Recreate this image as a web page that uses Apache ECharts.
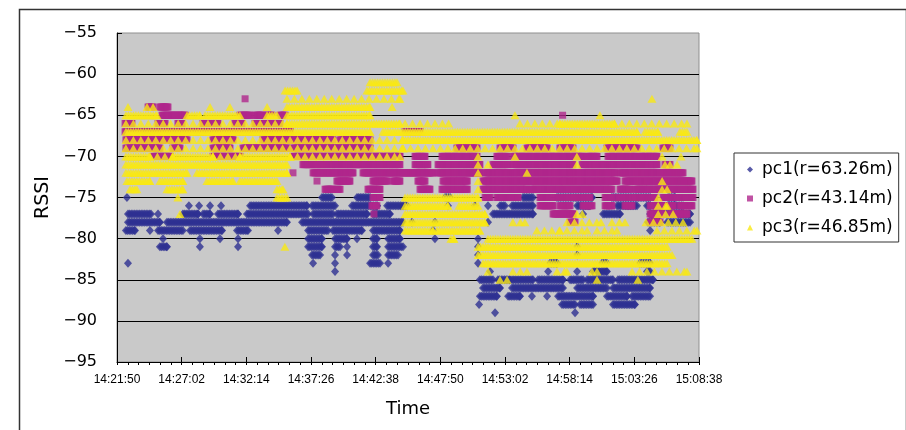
<!DOCTYPE html>
<html>
<head>
<meta charset="utf-8">
<script src="https://cdn.jsdelivr.net/npm/echarts@6/dist/echarts.min.js"></script>
<style>
  html, body { margin: 0; padding: 0; background: #fff; }
  #main { width: 906px; height: 430px; }
</style>
</head>
<body>
<div id="main"></div>
<script>
// x = seconds after 14:21:50, one major tick every 312 s (5:12)
const xTickLabels = ['14:21:50', '14:27:02', '14:32:14', '14:37:26', '14:42:38',
  '14:47:50', '14:53:02', '14:58:14', '15:03:26', '15:08:38'];
const xStep = 312;
const yMin = -95, yMax = -55, yStep = 5;

const seriesNames = ['pc1(r=63.26m)', 'pc2(r=43.14m)', 'pc3(r=46.85m)'];

// runs: [rssi, firstSecond, lastSecond] (one value = single sample)
const pc1Runs = [
  [-75, 48], [-75, 989, 1037], [-75, 1158, 1221], [-75, 1583, 1607], [-75, 1959, 2007], [-75, 2123, 2292], [-75, 2388, 2572], [-75, 2659, 2692],
  [-76, 347], [-76, 396], [-76, 449], [-76, 502], [-76, 642, 917], [-76, 941, 1052], [-76, 1134, 1255], [-76, 1303, 1399], [-76, 1597], [-76, 1727], [-76, 1790],
  [-76, 1848, 1872], [-76, 1906, 2007], [-76, 2220, 2282], [-76, 2413, 2509], [-76, 2557, 2572], [-76, 2659, 2731],
  [-77, 53, 164], [-77, 198], [-77, 318, 391], [-77, 415, 449], [-77, 487, 584], [-77, 627, 922], [-77, 946, 1042], [-77, 1061, 1206], [-77, 1235, 1317],
  [-77, 1814, 2007], [-77, 2249], [-77, 2345, 2427], [-77, 2572, 2765],
  [-78, 53, 207], [-78, 241, 820], [-78, 893, 1380], [-78, 1423], [-78, 1534], [-78, 1790], [-78, 2562, 2620], [-78, 2654, 2765],
  [-79, 43, 87], [-79, 159], [-79, 198, 318], [-79, 352, 507], [-79, 579, 632], [-79, 777], [-79, 922, 1018], [-79, 1042, 1182], [-79, 1235, 1365], [-79, 1525], [-79, 2572],
  [-80, 222], [-80, 400], [-80, 497], [-80, 584], [-80, 922, 989], [-80, 1052, 1110], [-80, 1158], [-80, 1235, 1255], [-80, 1308, 1365], [-80, 1534], [-80, 1742],
  [-81, 207, 241], [-81, 400], [-81, 584], [-81, 922, 989], [-81, 1052, 1076], [-81, 1110], [-81, 1235, 1255], [-81, 1308, 1380], [-81, 1742], [-81, 2220],
  [-82, 941, 980], [-82, 1052], [-82, 1110], [-82, 1235, 1259], [-82, 1308, 1356], [-82, 1742], [-82, 2220],
  [-83, 53], [-83, 946], [-83, 1052], [-83, 1221, 1269], [-83, 1308], [-83, 1742], [-83, 2089, 2123], [-83, 2340, 2364], [-83, 2523, 2572],
  [-84, 1052], [-84, 1800], [-84, 2080], [-84, 2220], [-84, 2297, 2364], [-84, 2557, 2572],
  [-85, 1751, 1814], [-85, 1838, 1896], [-85, 1906, 2007], [-85, 2031, 2152], [-85, 2186, 2249], [-85, 2268, 2393], [-85, 2417, 2586],
  [-86, 1766, 1848], [-86, 1906, 2152], [-86, 2220, 2364], [-86, 2393, 2572],
  [-87, 1751, 1833], [-87, 1887, 1944], [-87, 2002], [-87, 2075], [-87, 2128, 2297], [-87, 2364, 2461], [-87, 2485, 2572],
  [-88, 1747], [-88, 2147, 2210], [-88, 2234, 2297], [-88, 2393, 2499],
  [-89, 1824], [-89, 2210]
];

const pc2Runs = [
  [-63, 618],
  [-64, 150, 174], [-64, 207, 246],
  [-65, 217, 328], [-65, 593, 642], [-65, 666, 704], [-65, 724, 748], [-65, 786, 811], [-65, 2150],
  [-66, 39, 72], [-66, 198, 232], [-66, 294, 314], [-66, 415, 487], [-66, 569, 603], [-66, 666, 786],
  [-67, 39, 835], [-67, 1390, 1462],
  [-68, 43, 338], [-68, 463, 560], [-68, 704, 835], [-68, 849, 1042], [-68, 1076, 1221],
  [-69, 43, 207], [-69, 270, 304], [-69, 463, 545], [-69, 608, 690], [-69, 704, 820], [-69, 849, 1221], [-69, 1640, 1737], [-69, 1848, 1911],
  [-69, 1978, 2075], [-69, 2137, 2200], [-69, 2364, 2509], [-69, 2634, 2668],
  [-70, 174, 256], [-70, 463, 593], [-70, 849, 1365], [-70, 1438, 1486], [-70, 1568, 1737], [-70, 1833, 1882], [-70, 1911, 2248], [-70, 2268, 2316],
  [-70, 2369, 2509], [-70, 2523, 2605],
  [-71, 897, 1365], [-71, 1438, 1500], [-71, 1549, 1751], [-71, 1814, 1887], [-71, 1911, 2200], [-71, 2244, 2605], [-71, 2644, 2668],
  [-72, 849], [-72, 946, 1139], [-72, 1187, 1525], [-72, 1549, 1751], [-72, 1776, 2403], [-72, 2427, 2731],
  [-73, 965], [-73, 1061, 1124], [-73, 1235, 1303], [-73, 1332, 1365], [-73, 1452, 1486], [-73, 1573, 1689], [-73, 1766, 2162], [-73, 2171, 2413], [-73, 2451, 2774],
  [-74, 1004, 1042], [-74, 1061, 1076], [-74, 1211, 1269], [-74, 1462, 1510], [-74, 1568, 1689], [-74, 1766, 1978], [-74, 1993, 2388], [-74, 2427, 2475],
  [-74, 2499, 2572], [-74, 2581, 2779],
  [-75, 1235, 1269], [-75, 1776, 1800], [-75, 1833, 1935], [-75, 2041, 2089], [-75, 2113, 2282], [-75, 2355, 2388], [-75, 2417, 2499], [-75, 2523, 2596], [-75, 2634, 2779],
  [-76, 1230, 1254], [-76, 2041, 2104], [-76, 2137, 2186], [-76, 2248, 2292], [-76, 2355, 2388], [-76, 2451, 2485], [-76, 2572, 2683], [-76, 2716, 2774],
  [-77, 1240], [-77, 2104, 2200], [-77, 2572, 2634], [-77, 2668, 2750],
  [-78, 2186, 2210], [-78, 2572, 2620]
];

// pc3 has close-packed stretches and thinly sampled stretches
const pc3Runs = [
  [-61, 1221, 1351],
  [-62, 811, 869], [-62, 1206, 1380],
  [-64, 820, 1221],
  [-65, 43, 193], [-65, 338, 400], [-65, 425, 593], [-65, 724, 772], [-65, 820, 1221],
  [-66, 820, 1365], [-66, 2137, 2400],
  [-67, 43, 1221], [-67, 1283, 2509], [-67, 2547, 2610], [-67, 2716, 2750],
  [-68, 1380, 2798],
  [-70, 43, 159], [-70, 270, 463], [-70, 593, 835],
  [-71, 43, 820],
  [-72, 43, 338], [-72, 386, 820],
  [-73, 48, 159], [-73, 207, 318], [-73, 434, 560], [-73, 593, 772],
  [-74, 63, 96], [-74, 241, 318], [-74, 772, 801],
  [-75, 772, 820], [-75, 1390, 1742],
  [-76, 1390, 1597], [-76, 1650, 1742],
  [-77, 1390, 1775],
  [-78, 1390, 1775],
  [-79, 1390, 1525], [-79, 1544, 1751],
  [-80, 1611, 1626], [-80, 1790, 2774],
  [-81, 1742, 2654],
  [-82, 1742, 2678],
  [-83, 1766, 2654]
];
const pc3SparseRuns = [
  [-63, 820, 1365], [-63, 2581],
  [-64, 53], [-64, 145, 174], [-64, 449], [-64, 545], [-64, 724], [-64, 1327],
  [-65, 1920], [-65, 2330],
  [-66, 43, 820], [-66, 1390, 1600], [-66, 1944, 2137], [-66, 2400, 2750],
  [-68, 43, 1380],
  [-69, 43, 1380], [-69, 1380, 2798],
  [-70, 159, 270], [-70, 463, 593], [-70, 835, 1365], [-70, 1742], [-70, 1920], [-70, 2219], [-70, 2630], [-70, 2721],
  [-71, 1742], [-71, 1790], [-71, 2219], [-71, 2644, 2668], [-71, 2702],
  [-72, 1742], [-72, 1978],
  [-73, 1742], [-73, 2630],
  [-74, 1742], [-74, 2630, 2654],
  [-75, 294], [-75, 2611],
  [-76, 2611, 2654],
  [-77, 304], [-77, 2219, 2245], [-77, 2611, 2683],
  [-78, 1910, 1968], [-78, 2171, 2335], [-78, 2388, 2451], [-78, 2552, 2731],
  [-79, 2026, 2137], [-79, 2171, 2268], [-79, 2316, 2412], [-79, 2605, 2798],
  [-81, 810],
  [-84, 1790], [-84, 1910, 1978], [-84, 2123, 2171], [-84, 2292, 2316], [-84, 2485, 2750],
  [-85, 1848, 1882], [-85, 2316], [-85, 2513]
];

// one sample every `step` seconds along each run
function expand(runs, step) {
  const pts = [];
  runs.forEach(function (r) {
    const v = r[0], t0 = r[1], t1 = r.length > 2 ? r[2] : r[1];
    for (let t = t0; t <= t1; t += step) pts.push([t, v]);
    if ((t1 - t0) % step) pts.push([t1, v]);
  });
  return pts;
}

const font = 'DejaVu Sans';
const chart = echarts.init(document.getElementById('main'));

const option = {
  animation: false,
  backgroundColor: '#fff',
  graphic: [{
    type: 'rect', left: 17, top: 7, z: -1, silent: true,
    shape: { width: 887, height: 440 },
    style: { fill: null, stroke: '#333', lineWidth: 1.5 }
  }],
  grid: {
    left: 117, top: 33, width: 582, height: 329,
    show: true, backgroundColor: '#c9c9c9', borderColor: '#8f8f8f', borderWidth: 1
  },
  legend: {
    orient: 'vertical', left: 734, top: 153,
    padding: [8, 6, 6, 13], itemGap: 12, itemWidth: 6, itemHeight: 6,
    borderColor: '#333', borderWidth: 1, backgroundColor: '#fff',
    textStyle: { fontFamily: font, fontSize: 17, color: '#000', lineHeight: 17, padding: [0, 0, 0, 4] },
    data: seriesNames
  },
  xAxis: [{
    type: 'value', min: 0, max: xStep * (xTickLabels.length - 1), interval: xStep,
    name: 'Time', nameLocation: 'middle', nameGap: 38,
    nameTextStyle: { fontFamily: font, fontSize: 18, color: '#000' },
    axisLine: { lineStyle: { color: '#000', width: 1 } },
    axisTick: { length: 3, lineStyle: { color: '#000' } },
    minorTick: { show: true, splitNumber: 6, length: 3, lineStyle: { color: '#000' } },
    splitLine: { show: false },
    axisLabel: {
      margin: 12, fontFamily: 'Liberation Sans', fontSize: 12, color: '#000',
      formatter: function (v) { return xTickLabels[Math.round(v / xStep)]; }
    }
  }, {
    type: 'value', position: 'bottom', min: 0, max: xStep * (xTickLabels.length - 1), interval: xStep,
    axisLine: { show: false },
    axisTick: { inside: true, length: 5, lineStyle: { color: '#000' } },
    axisLabel: { show: false },
    splitLine: { show: false }
  }],
  yAxis: {
    type: 'value', min: yMin, max: yMax, interval: yStep,
    name: 'RSSI', nameLocation: 'middle', nameGap: 64,
    nameTextStyle: { fontFamily: font, fontSize: 19, color: '#000' },
    axisLine: { show: true, lineStyle: { color: '#000', width: 1 } },
    axisTick: { show: true, inside: true, length: 5, lineStyle: { color: '#000' } },
    splitLine: { show: true, showMinLine: false, showMaxLine: false, lineStyle: { color: '#000', width: 1 } },
    axisLabel: {
      margin: 20, fontFamily: font, fontSize: 16, color: '#000',
      formatter: function (v) { return String(v).replace('-', '\u2212'); }
    }
  },
  series: [{
    name: seriesNames[0], type: 'scatter', symbol: 'diamond', symbolSize: [8, 9],
    progressive: 0, large: false,
    itemStyle: { color: '#2e3192' },
    data: expand(pc1Runs, 8)
  }, {
    name: seriesNames[1], type: 'scatter', symbol: 'rect', symbolSize: 7,
    progressive: 0, large: false,
    itemStyle: { color: '#b0278c' },
    data: expand(pc2Runs, 5)
  }, {
    name: seriesNames[2], type: 'scatter', symbol: 'triangle', symbolSize: [9, 8],
    progressive: 0, large: false,
    itemStyle: { color: '#f9e914' },
    data: expand(pc3Runs, 12).concat(expand(pc3SparseRuns, 36))
  }]
};

chart.setOption(option);
</script>
</body>
</html>
